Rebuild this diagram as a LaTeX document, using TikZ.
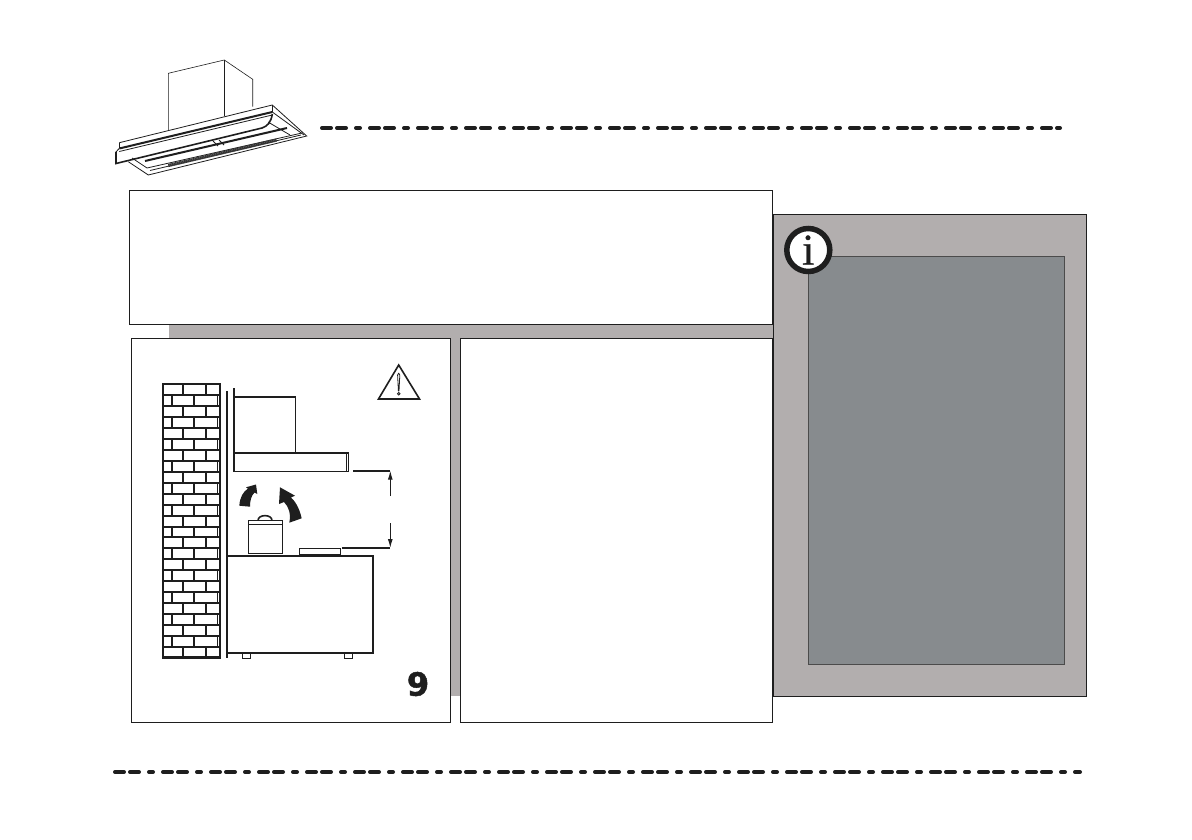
\documentclass[tikz,border=0pt]{standalone}
\usepackage{fontspec}
\newfontfamily\boldfont[FakeBold=1.5]{DejaVu Sans Bold}
\newfontfamily\serifbold[FakeBold=0.6]{Liberation Serif}
\usetikzlibrary{arrows,arrows.meta,calc}
\definecolor{panelgrey}{RGB}{178,174,174}
\definecolor{innergrey}{RGB}{135,139,142}
\definecolor{inkblack}{RGB}{30,30,30}
\tikzset{
    panel/.style={draw=inkblack, line width=0.8pt, fill=white},
    rule/.style={draw=inkblack, line width=4pt, line cap=round, dash pattern=on 9pt off 6pt on 9pt off 10pt on 4pt off 10pt},
    thin ink/.style={draw=inkblack, line width=0.8pt},
    ink/.style={draw=inkblack, line width=1.6pt},
    wall/.style={draw=inkblack, line width=2pt},
    bent/.style={fill=inkblack, draw=none},
    dimtip/.style={-{Latex[length=9pt,width=5pt]}, draw=inkblack, line width=1.1pt},
}
\tikzset{>=latex}
\begin{document}
\begin{tikzpicture}[x=1pt,y=-1pt]
\useasboundingbox (0,0) rectangle (1192,840);
\fill[white] (0,0) rectangle (1192,840);

%GREY BACKGROUND
\fill[panelgrey] (169,325) rectangle (773,696);
\draw[fill=panelgrey, draw=inkblack, line width=0.6pt] (772.8,213.8) rectangle (1085.8,695.8);
\draw[fill=innergrey, draw=inkblack!80, line width=0.8pt] (808.8,256.8) rectangle (1064.8,664.8);

%PANELS
\draw[panel] (129.8,190.8) rectangle (772.8,324.8);
\draw[panel] (131.8,338.8) rectangle (450.8,722.8);
\draw[panel] (460.8,338.8) rectangle (772.8,722.8);

%DASHED RULES
\draw[rule] (322,128)--(1060,128);
\draw[rule] (115,772)--(1080,772);

%INFO SIGN
\node[circle, draw=inkblack, line width=5.5pt, fill=white, minimum size=43pt, inner sep=0pt] (info) at (808.3,250) {};
\node[font=\serifbold\fontsize{44}{44}\selectfont, text=inkblack] (infoletter) at (info.center) {i};

%HOOD SKETCH
\draw[thin ink, line width=0.6pt] (168.3,130)--(168.3,73.3)--(224.3,60)--(252.7,79.3)--(252.7,106.7);
\draw[thin ink, line width=0.6pt] (224.3,60)--(224.3,115.7);
\draw[thin ink] (119.3,142.7)--(272.3,105)--(306.7,136)--(148.3,175)--(128.3,161.7);
\draw[thin ink] (119.3,142.7)--(119.3,148.3);
\draw[thin ink] (272.3,105)--(272.3,112);
\draw[ink, line width=2pt] (119.3,148.5)--(272.3,112);
\draw[thin ink] (119.3,151.5)--(272.3,115);
\draw[ink] (116,152)--(116,163.5)--(262,128) .. controls (268,126) and (271,122) .. (272.3,114);
\draw[thin ink] (116,152)--(119.3,148.3);
\draw[ink, line width=2pt] (145,161)--(287,128);
\draw[thin ink] (272.3,112)--(304,135);
\draw[thin ink] (268,122)--(290,135);
\draw[thin ink] (132,158)--(147,168)--(302,133);
\draw[thin ink] (150,170.5)--(301,135);
\draw[thin ink] (213,141)--(218,146);
\draw[thin ink] (219,140)--(224,145);
\draw[line width=3.2pt, draw=inkblack!90, dash pattern=on 1.4pt off 0.4pt] (168.3,165.5)--(276.7,140);

%BRICK WALL
\draw[wall] (162.7,384.3) rectangle (220.3,657.7);
\foreach \row in {1,...,24}{
    \draw[wall] (162.7,384.3+\row*10.94)--(220.3,384.3+\row*10.94);
}
\foreach \row in {0,2,...,24}{
    \draw[wall] (182.7,384.3+\row*10.94)--(182.7,384.3+\row*10.94+10.94);
    \draw[wall] (206,384.3+\row*10.94)--(206,384.3+\row*10.94+10.94);
}
\foreach \row in {1,3,...,23}{
    \draw[wall] (171.7,384.3+\row*10.94)--(171.7,384.3+\row*10.94+10.94);
    \draw[wall] (194.3,384.3+\row*10.94)--(194.3,384.3+\row*10.94+10.94);
    \draw[thin ink] (217.7,384.3+\row*10.94)--(217.7,384.3+\row*10.94+10.94);
}
\draw[line width=2.8pt, draw=inkblack] (162,657.7)--(221,657.7);
\draw[wall] (227,391)--(227,658);

%HOOD SIDE VIEW
\draw[ink] (233.7,388)--(233.7,452.7);
\draw[ink] (233.7,396.7)--(295.5,396.7)--(295.5,452.7);
\draw[ink, line width=1.9pt] (233.7,452.7)--(348.5,452.7);
\draw[ink] (233.7,452.7)--(233.7,471.5)--(348.5,471.5)--(348.5,452.7);
\draw[thin ink] (346.3,452.7)--(346.3,471.5);

%CURVED ARROWS
\fill[bent] (239.3,505.7) .. controls (240,497) and (243,492) .. (248,488.5)
    --(246,487.3)--(256,484.5)--(257.3,494)--(254.5,492.5)
    .. controls (251,496) and (250,501) .. (250,506.7)--cycle;
\fill[bent] (289.3,522.7) .. controls (291,514) and (289,507) .. (284,502)
    --(279,504)--(280,487.3)--(295,495.7)--(291,497.5)
    .. controls (297,503) and (300,511) .. (301.7,518.3)--cycle;

%POT AND HOB
\draw[ink] (248.5,554)--(248.5,520.5)--(282.5,520.5)--(282.5,554);
\draw[thin ink] (248.5,524)--(282.5,524);
\draw[ink] (258,520.5) .. controls (258,514) and (272,514) .. (272,520.5);
\draw[ink] (249,553.5)--(282,553.5);
\draw[ink] (299.5,554.5)--(299.5,548.5)--(340.5,548.5)--(340.5,554.5);
\draw[ink, line width=2pt] (299.5,554.5)--(340.5,554.5);

%CABINET
\draw[ink] (227,555.7)--(373,555.7)--(373,652.7)--(227,652.7);
\draw[thin ink] (242.3,652.7) rectangle (250,658);
\draw[thin ink] (344.3,652.7) rectangle (352,658);

%DISTANCE MARK
\coordinate (topfree) at (353.3,470.7);
\coordinate (topcorner) at (390.3,470.7);
\coordinate (lowfree) at (342,548);
\coordinate (lowcorner) at (390.3,548);
\draw[ink] (topfree)--(topcorner);
\draw[ink] (lowfree)--(lowcorner);
\draw[dimtip] (390.3,496)--(topcorner);
\draw[dimtip] (390.3,523)--(lowcorner);

%WARNING SIGN
\draw[ink, line join=miter] (398.7,365)--(419.5,399)--(378.5,399)--cycle;
\draw[thin ink, line join=round] (397.6,375) .. controls (397.6,372.5) and (399.8,372.5) .. (399.8,375)--(399,391)--(398.4,391)--cycle;
\draw[thin ink] (398.8,393.8) circle (1.3);

\node[font=\boldfont\fontsize{32}{32}\selectfont, text=inkblack, inner sep=0pt] (fignumber) at (418,684) {9};
\end{tikzpicture}
\end{document}
